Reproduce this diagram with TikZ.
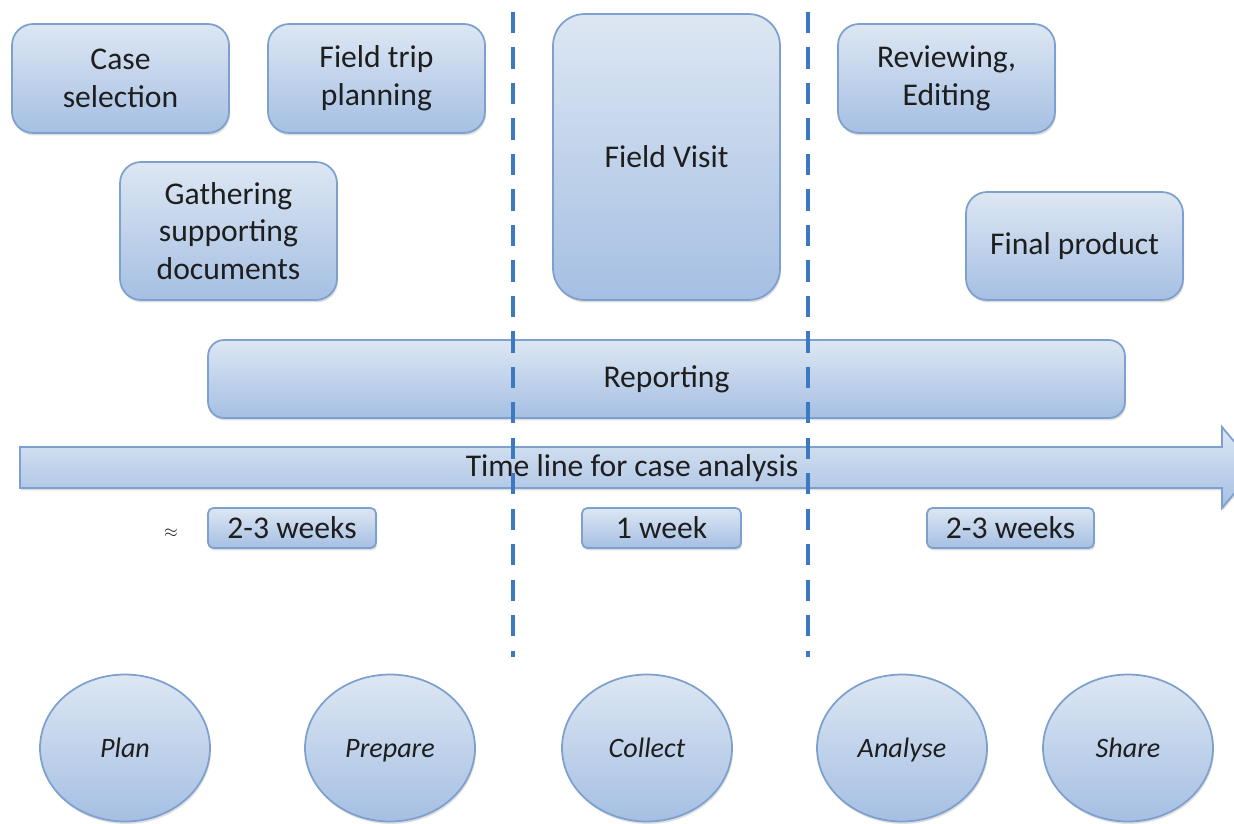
\documentclass[tikz,border=0pt]{standalone}
\usepackage{fontspec}
\setmainfont{Carlito}
\usetikzlibrary{shapes.geometric,shadows}

\definecolor{boxtop}{HTML}{DDE7F3}
\definecolor{boxbot}{HTML}{A5BFE3}
\definecolor{boxline}{HTML}{7DA0CE}
\definecolor{dashblue}{HTML}{3D79C1}
\definecolor{txt}{HTML}{1E1E1E}

\tikzset{
  stage/.style={draw=boxline, line width=1pt, rounded corners=12pt,
    top color=boxtop, bottom color=boxbot, text=txt, align=center,
    inner sep=0pt, font=\fontsize{18}{21.5}\selectfont,
    drop shadow={opacity=.25, shadow xshift=.6pt, shadow yshift=-1.4pt}},
  weekbox/.style={stage, rounded corners=3pt, minimum height=.8cm},
  phase/.style={stage, ellipse, minimum width=3.4cm, minimum height=2.94cm,
    text height=10.3pt, text depth=0pt,
    font=\itshape\fontsize{16}{19}\selectfont},
  divider/.style={dashblue, line width=2.3pt, dash pattern=on 12pt off 8.2pt}
}

\begin{document}
\begin{tikzpicture}[x=0.02cm, y=-0.02cm]
  \useasboundingbox (0,0) rectangle (1234,823);

  % tasks
  \node[stage, minimum width=4.34cm, minimum height=2.18cm] (casesel) at (120.5,78.5) {Case\\selection};
  \node[stage, minimum width=4.34cm, minimum height=2.18cm] (tripplan) at (376.5,78.5) {Field trip\\planning};
  \node[stage, minimum width=4.34cm, minimum height=2.76cm] (gather) at (228.5,231) {Gathering\\supporting\\documents};
  \node[stage, rounded corners=18pt, minimum width=4.54cm, minimum height=5.72cm] (visit) at (666.5,157) {};
  \node[text=txt, font=\fontsize{18}{21.5}\selectfont] (visitlbl) at (666.5,157) {Field Visit};
  \node[stage, minimum width=4.34cm, minimum height=2.18cm] (review) at (946.5,78.5) {Reviewing,\\Editing};
  \node[stage, minimum width=4.34cm, minimum height=2.16cm] (final) at (1074.5,246) {Final product};
  \node[stage, rounded corners=9pt, minimum width=18.34cm, minimum height=1.56cm] (report) at (666.5,379) {Reporting};

  % time line
  \begin{scope}
    \clip (0,0) rectangle (1234,823);
    \draw[boxline, line width=1pt, top color=boxtop, bottom color=boxbot,
      drop shadow={opacity=.25, shadow xshift=.6pt, shadow yshift=-1.4pt}]
      (20,447) -- (1222,447) -- (1222,427) -- (1256,467.5) -- (1222,508)
      -- (1222,488) -- (20,488) -- cycle;
  \end{scope}
  \node[text=txt, font=\fontsize{18}{21.5}\selectfont] (timeline) at (632,468) {Time line for case analysis};

  % durations
  \node[text=txt] (approx) at (171,533) {$\approx$};
  \node[weekbox, minimum width=3.36cm] (wk1) at (292,528) {2-3 weeks};
  \node[weekbox, minimum width=3.18cm] (wk2) at (661.5,528) {1 week};
  \node[weekbox, minimum width=3.34cm] (wk3) at (1010.5,528) {2-3 weeks};

  % phases
  \node[phase] (plan) at (125,748) {Plan};
  \node[phase] (prepare) at (390,748) {Prepare};
  \node[phase] (collect) at (647,748) {Collect};
  \node[phase] (analyse) at (902,748) {Analyse};
  \node[phase] (share) at (1128,748) {Share};

  % dividers
  \draw[divider] (513,12) -- (513,657);
  \draw[divider] (808,12) -- (808,657);
\end{tikzpicture}
\end{document}
